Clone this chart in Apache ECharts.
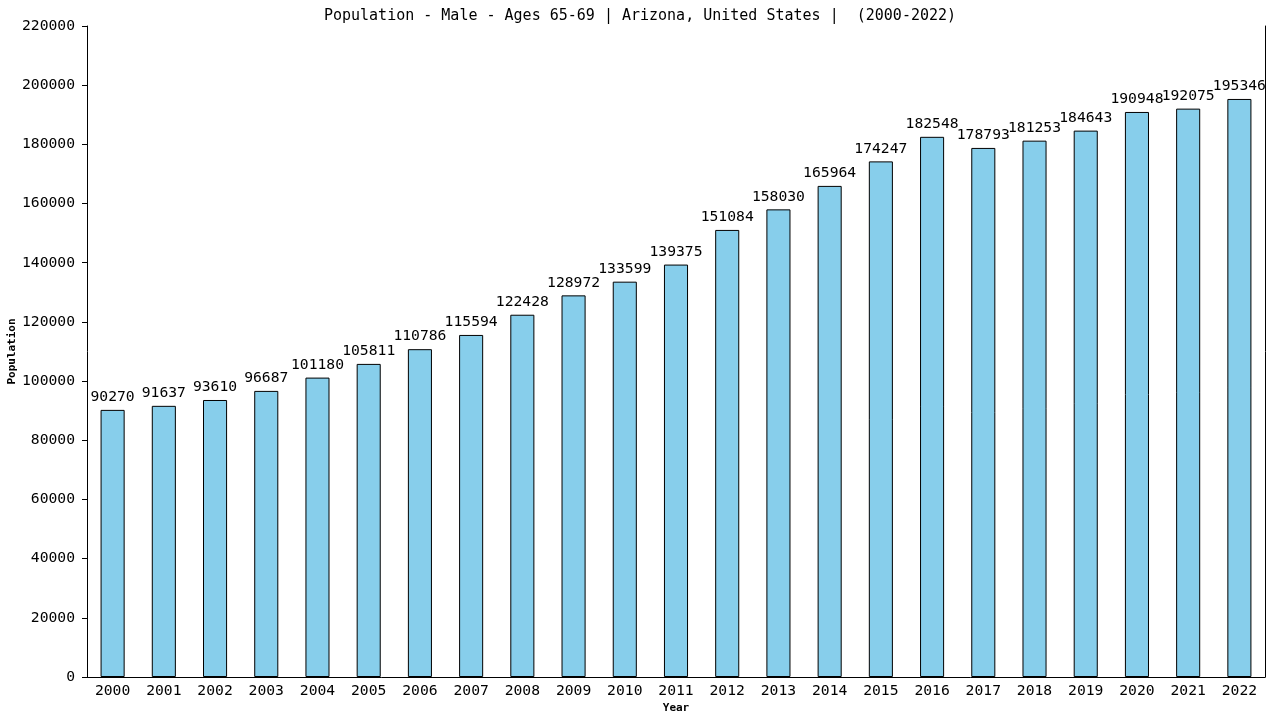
<!DOCTYPE html>
<html><head><meta charset="utf-8">
<script src="https://cdn.jsdelivr.net/npm/echarts@6/dist/echarts.min.js"></script>
<style>html,body{margin:0;padding:0;background:#fff}#c{width:1280px;height:720px}</style>
</head><body><div id="c"></div>
<script>
const years = ["2000","2001","2002","2003","2004","2005","2006","2007","2008","2009","2010","2011","2012","2013","2014","2015","2016","2017","2018","2019","2020","2021","2022"];
const population = [90270,91637,93610,96687,101180,105811,110786,115594,122428,128972,133599,139375,151084,158030,165964,174247,182548,178793,181253,184643,190948,192075,195346];
const titleText = "Population - Male - Ages 65-69 | Arizona, United States |  (2000-2022)";
const FONT = "DejaVu Sans Mono";
const chart = echarts.init(document.getElementById('c'), null, {renderer:'canvas'});
chart.setOption({
  animation:false,
  backgroundColor:'#ffffff',
  title:{text:titleText,left:'center',top:4,textStyle:{fontFamily:FONT,fontSize:15,fontWeight:'normal',color:'#000'}},
  grid:{left:87,right:15,top:26,bottom:43,containLabel:false,outerBoundsMode:'none',show:false},
  xAxis:{type:'category',data:years,name:'Year',nameLocation:'middle',nameGap:26,nameMoveOverlap:false,
    nameTextStyle:{fontFamily:FONT,fontSize:11,fontWeight:'bold',color:'#000'},
    axisLine:{lineStyle:{color:'#000',width:1}},axisTick:{show:false},
    axisLabel:{fontFamily:FONT,fontSize:14.7,color:'#000',margin:7,interval:0},splitLine:{show:false}},
  yAxis:[{type:'value',min:0,max:220000,interval:20000,name:'Population',nameLocation:'middle',nameGap:69,nameMoveOverlap:false,
    nameTextStyle:{fontFamily:FONT,fontSize:11,fontWeight:'bold',color:'#000'},
    axisLine:{show:true,lineStyle:{color:'#000',width:1}},axisTick:{show:true,length:5,lineStyle:{color:'#000'}},
    axisLabel:{fontFamily:FONT,fontSize:14.7,color:'#000',margin:12,formatter:function(v){return String(v);}},splitLine:{show:false}},
    {type:'value',min:0,max:220000,interval:20000,position:'right',
    axisLine:{show:true,lineStyle:{color:'#000',width:1}},axisTick:{show:false},axisLabel:{show:false},splitLine:{show:false}}],
  series:[{type:'bar',data:population,barWidth:'47%',yAxisIndex:0,
    itemStyle:{color:'#87CEEB',borderColor:'#000',borderWidth:1},
    label:{show:true,position:'top',distance:5,fontFamily:FONT,fontSize:14.7,color:'#000'}}]
});
</script></body></html>
